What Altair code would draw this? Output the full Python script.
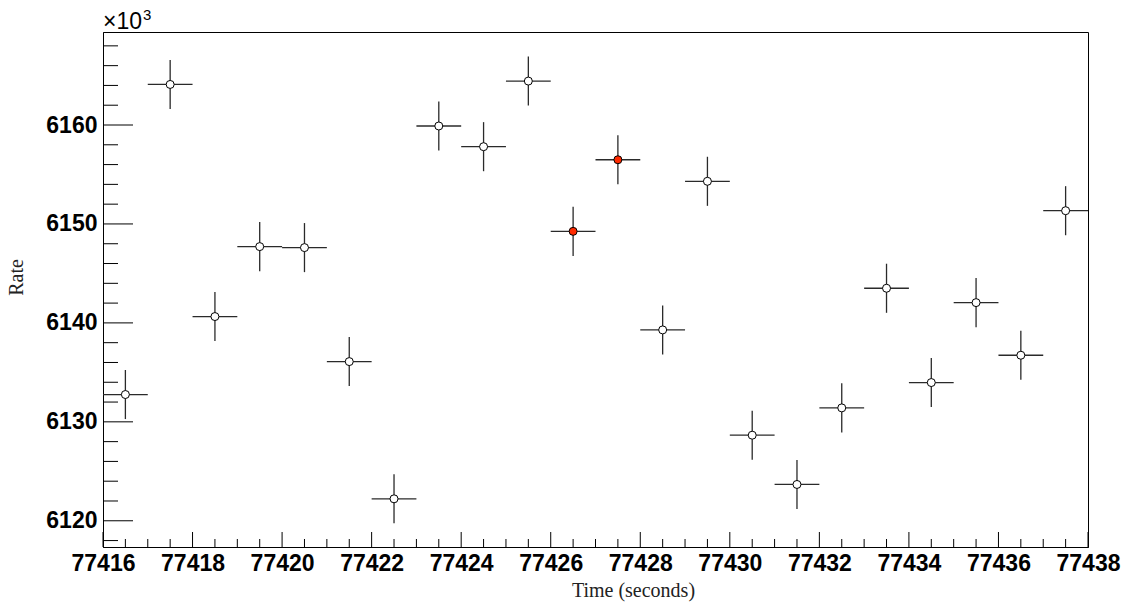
import altair as alt
import numpy as np
import pandas as pd

# Bin centres (seconds) and measured rate in units of 10^3
time_s = [77416.5, 77417.5, 77418.5, 77419.5, 77420.5, 77421.5, 77422.5,
          77423.5, 77424.5, 77425.5, 77426.5, 77427.5, 77428.5, 77429.5,
          77430.5, 77431.5, 77432.5, 77433.5, 77434.5, 77435.5, 77436.5,
          77437.5]
rate_k = [6132.76, 6164.10, 6140.64, 6147.71, 6147.61, 6136.09, 6122.22,
          6159.90, 6157.81, 6164.44, 6149.25, 6156.49, 6139.29, 6154.31,
          6128.65, 6123.67, 6131.41, 6143.50, 6133.97, 6142.05, 6136.73,
          6151.34]
rate_err_k = [2.48] * 22
bin_half_width = [0.5] * 22
flagged = [False, False, False, False, False, False, False, False, False,
           False, True, True, False, False, False, False, False, False,
           False, False, False, False]

# Axis tick values
x_major = [77416, 77418, 77420, 77422, 77424, 77426, 77428, 77430, 77432,
           77434, 77436, 77438]
y_major = [6120, 6130, 6140, 6150, 6160]
x_minor = [v for v in np.arange(77416.5, 77438, 0.5) if v not in x_major]
y_minor = [v for v in range(6118, 6170, 2) if v not in y_major]

W, H = 985, 515
LINE = "#2a2a2a"

df = pd.DataFrame({
    "t": time_s, "r": rate_k, "err": rate_err_k,
    "dt": bin_half_width, "hl": flagged,
})
df["t_lo"] = df["t"] - df["dt"]
df["t_hi"] = df["t"] + df["dt"]
df["r_lo"] = df["r"] - df["err"]
df["r_hi"] = df["r"] + df["err"]

x_scale = alt.Scale(domain=[77416, 77438], nice=False, zero=False)
y_scale = alt.Scale(domain=[6117.35, 6169.4], nice=False, zero=False)

x_axis = alt.Axis(
    values=x_major, format="d", title="Time (seconds)",
    labelPadding=5, labelOverlap=False, labelFlush=False,
    titleX=530, titleY=49, titleAlign="center", titleBaseline="alphabetic",
)
y_axis = alt.Axis(
    values=y_major, format="d", title="Rate",
    labelPadding=6, labelOverlap=False, labelFlush=False,
    titleAngle=270, titleX=-81, titleY=245,
    titleAlign="center", titleBaseline="alphabetic",
)

X = lambda f: alt.X(f, type="quantitative", scale=x_scale, axis=x_axis)
Y = lambda f: alt.Y(f, type="quantitative", scale=y_scale, axis=y_axis)

base = alt.Chart(df)

h_bars = base.mark_rule(color=LINE, strokeWidth=1.3).encode(
    x=X("t_lo"), x2="t_hi", y=Y("r"))
v_bars = base.mark_rule(color=LINE, strokeWidth=1.3).encode(
    x=X("t"), y=Y("r_lo"), y2="r_hi")
markers = base.mark_point(
    shape="circle", filled=True, size=64, opacity=1,
    stroke="black", strokeWidth=1,
).encode(
    x=X("t"), y=Y("r"),
    fill=alt.condition("datum.hl", alt.value("#ff2a00"), alt.value("white")),
)

# Inward-pointing tick marks in the ROOT style
xt_major = alt.Chart(pd.DataFrame({"t": x_major})).mark_rule(
    color="black", strokeWidth=1).encode(
    x=X("t"), y=alt.value(H), y2=alt.value(H - 15))
xt_minor = alt.Chart(pd.DataFrame({"t": x_minor})).mark_rule(
    color="black", strokeWidth=1).encode(
    x=X("t"), y=alt.value(H), y2=alt.value(H - 8))
yt_major = alt.Chart(pd.DataFrame({"r": y_major})).mark_rule(
    color="black", strokeWidth=1).encode(
    y=Y("r"), x=alt.value(0), x2=alt.value(30))
yt_minor = alt.Chart(pd.DataFrame({"r": y_minor})).mark_rule(
    color="black", strokeWidth=1).encode(
    y=Y("r"), x=alt.value(0), x2=alt.value(15))

# Exponent marker above the y axis
exp_base = alt.Chart(pd.DataFrame({"s": ["×10"]})).mark_text(
    align="left", baseline="alphabetic", font="Liberation Sans",
    fontSize=23, color="black").encode(
    text="s:N", x=alt.value(0), y=alt.value(-3))
exp_sup = alt.Chart(pd.DataFrame({"s": ["3"]})).mark_text(
    align="left", baseline="alphabetic", font="Liberation Sans",
    fontSize=15, color="black").encode(
    text="s:N", x=alt.value(40), y=alt.value(-12))

chart = alt.layer(
    xt_major, xt_minor, yt_major, yt_minor,
    h_bars, v_bars, markers, exp_base, exp_sup,
).properties(
    width=W, height=H,
    autosize=alt.AutoSizeParams(type="none"),
    padding={"left": 103, "top": 32, "right": 40, "bottom": 56},
    background="white",
).configure_view(
    stroke="black", strokeWidth=1,
).configure_axis(
    grid=False, ticks=False, tickSize=0,
    domainColor="black", domainWidth=1,
    labelFont="Liberation Sans", labelFontWeight="bold",
    labelFontSize=23, labelColor="black",
    titleFont="Liberation Serif", titleFontWeight="normal",
    titleFontSize=20, titleColor="#222222",
)

chart.save("out.html", embed_options={"renderer": "svg", "actions": False})
